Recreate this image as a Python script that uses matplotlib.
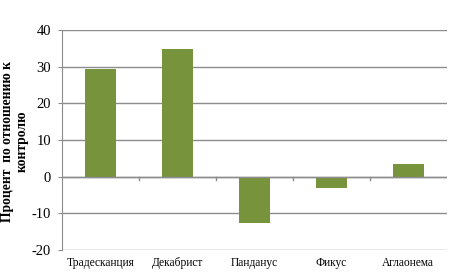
import numpy as np
import matplotlib.pyplot as plt

#data
plants = ['Традесканция', 'Декабрист', 'Панданус', 'Фикус', 'Аглаонема']
values = [29.3, 34.8, -12.5, -3.0, 3.4]
yticks = [-20, -10, 0, 10, 20, 30, 40]

fig = plt.figure(figsize=[4.64, 2.73], dpi=100)
ax = fig.add_axes([0.134, 0.084, 0.829, 0.806])

x = np.arange(len(plants))
ax.bar(x, values, width=0.4, color='#77933c', zorder=3)

ax.set_xlim(-0.5, len(plants) - 0.5)
ax.set_ylim(-20, 40)
ax.set_yticks(yticks)
ax.set_yticklabels([str(t) for t in yticks], family='Liberation Serif', fontsize=10.5)
ax.yaxis.grid(True, color='#8c8c8c', linewidth=1.0, zorder=0)
ax.tick_params(axis='y', length=3, color='#8c8c8c', pad=5)

for s in ['top', 'right', 'bottom']:
    ax.spines[s].set_visible(False)
ax.spines['left'].set_color('#8c8c8c')

# category axis on zero line
ax.axhline(0, color='#8c8c8c', linewidth=1.0, zorder=4)
for b in np.arange(0.5, len(plants) - 0.5, 1.0):
    ax.plot([b, b], [0, -0.9], color='#8c8c8c', linewidth=1.0, zorder=4, clip_on=False)
ax.set_xticks([])
for i, name in enumerate(plants):
    ax.text(i, -21.8, name, ha='center', va='top', family='Liberation Serif', fontsize=8.3)

# y label placed by hand so it is not cut
fig.text(0.032, 0.483, 'Процент  по отношению к\nконтролю', family='Liberation Serif',
         fontsize=9.8, fontweight='bold', rotation=90, ha='center', va='center',
         linespacing=1.25, multialignment='center')

plt.savefig('out.png', dpi=100)
